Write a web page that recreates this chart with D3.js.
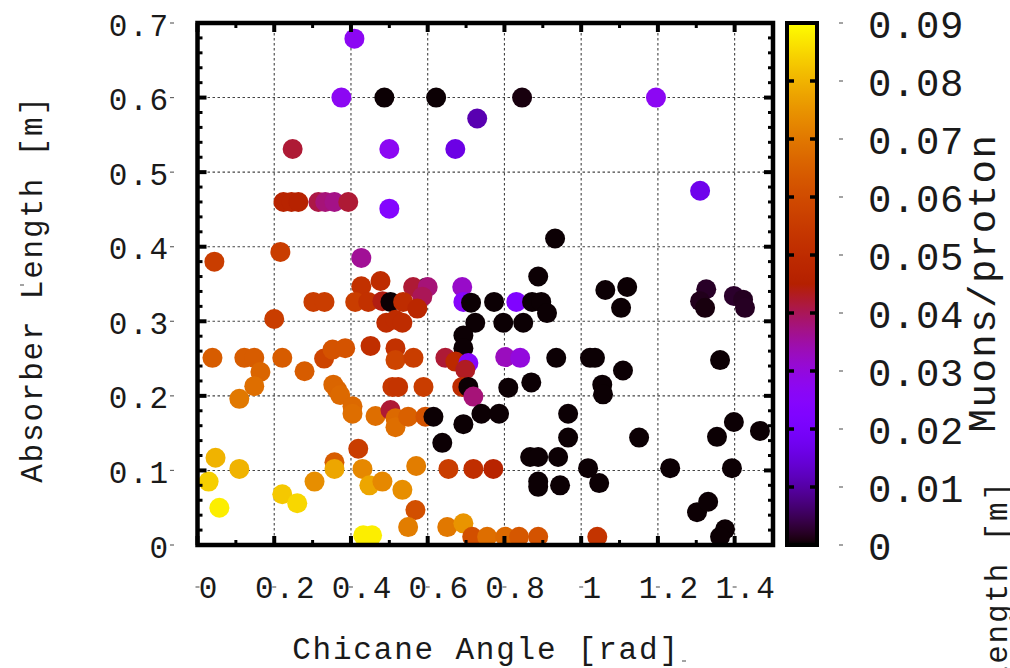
<!DOCTYPE html>
<html><head><meta charset="utf-8">
<script src="https://cdn.jsdelivr.net/npm/d3@7"></script>
<style>
html,body{margin:0;padding:0;background:#fff;}
svg text{font-family:"Liberation Mono","Courier New",monospace;fill:#1a1a1a;}
</style></head>
<body>
<svg id="chart" width="1010" height="668"></svg>
<script>
// ---- data: chicane angle [rad], absorber length [m], muons/proton ----
const angle = [
0.595,
0.409,0.375,0.487,0.622,0.846,1.195,0.729,0.248,0.500,0.672,0.500,1.310,
0.224,0.245,0.263,0.315,0.333,0.357,0.393,
0.932,0.044,0.216,0.427,0.888,0.427,0.477,0.562,0.600,0.586,0.690,
1.063,1.120,1.104,1.326,1.310,1.323,1.398,1.422,1.427,
0.302,0.331,0.411,0.445,0.482,0.503,0.536,0.573,0.693,0.713,0.773,0.831,0.872,0.896,0.911,
0.200,0.492,0.516,0.534,0.724,0.797,0.849,0.693,0.693,
0.451,0.516,0.516,0.563,
0.039,0.122,0.148,0.221,0.330,0.352,0.385,0.164,0.279,
0.802,0.841,0.935,1.023,1.036,1.362,1.109,
0.646,0.672,0.706,0.698,
0.148,0.109,0.354,0.364,0.372,
0.508,0.523,0.589,0.690,0.706,0.719,0.810,0.870,1.055,1.057,
0.404,0.404,0.464,0.503,0.516,0.516,0.549,0.594,
0.615,0.740,0.786,0.966,0.693,0.638,0.966,1.151,1.354,1.398,1.466,
0.419,0.867,0.888,0.940,0.888,0.888,0.945,
1.018,1.047,1.232,1.393,1.302,1.331,1.375,1.362,1.042,
0.357,0.357,0.430,0.448,0.482,
0.047,0.109,0.029,0.057,0.221,0.260,0.305,0.432,0.455,
0.570,0.654,0.719,0.771,
0.534,0.568,0.549,0.651,0.693,
0.716,0.755,0.802,0.838,0.888
];
const absorber = [
0.345,
0.679,0.600,0.600,0.600,0.600,0.600,0.572,0.531,0.531,0.531,0.451,0.475,
0.460,0.460,0.460,0.460,0.460,0.460,0.460,
0.411,0.380,0.393,0.385,0.360,0.347,0.354,0.346,0.346,0.333,0.346,
0.342,0.346,0.318,0.343,0.327,0.318,0.334,0.329,0.318,
0.326,0.326,0.326,0.326,0.327,0.326,0.326,0.317,0.326,0.325,0.326,0.326,0.326,0.326,0.311,
0.303,0.298,0.302,0.298,0.298,0.298,0.298,0.281,0.264,
0.267,0.264,0.248,0.251,
0.251,0.251,0.251,0.251,0.250,0.262,0.264,0.232,0.233,
0.252,0.251,0.251,0.251,0.251,0.248,0.234,
0.251,0.246,0.244,0.235,
0.213,0.196,0.215,0.208,0.201,
0.212,0.212,0.212,0.212,0.212,0.199,0.211,0.218,0.215,0.202,
0.186,0.176,0.173,0.181,0.170,0.158,0.172,0.172,
0.172,0.176,0.176,0.176,0.162,0.137,0.144,0.144,0.145,0.165,0.153,
0.129,0.118,0.118,0.118,0.085,0.078,0.080,
0.103,0.083,0.103,0.103,0.044,0.058,0.021,0.011,0.011,
0.111,0.102,0.102,0.080,0.085,
0.117,0.102,0.085,0.050,0.068,0.056,0.085,0.013,0.013,
0.106,0.102,0.102,0.102,
0.074,0.047,0.024,0.024,0.029,
0.011,0.011,0.011,0.011,0.011
];
const muons = [
0.0002,
0.027,0.027,0.0002,0.0002,0.0008,0.027,0.011,0.042,0.027,0.016,0.024,0.017,
0.047,0.047,0.046,0.041,0.038,0.037,0.042,
0.0002,0.056,0.056,0.036,0.0002,0.052,0.050,0.042,0.038,0.040,0.032,
0.0002,0.0002,0.0002,0.0022,0.0015,0.0008,0.0025,0.0018,0.0020,
0.056,0.056,0.056,0.052,0.044,0.0002,0.050,0.048,0.025,0.0002,0.0002,0.0225,0.0002,0.0002,0.0002,
0.056,0.050,0.050,0.050,0.0002,0.0002,0.0002,0.0002,0.0002,
0.051,0.052,0.058,0.056,
0.064,0.064,0.064,0.064,0.058,0.062,0.062,0.066,0.064,
0.033,0.030,0.0002,0.0002,0.0002,0.0002,0.0002,
0.042,0.049,0.025,0.043,
0.068,0.070,0.066,0.066,0.067,
0.054,0.053,0.056,0.050,0.0002,0.038,0.0002,0.0002,0.0002,0.0002,
0.067,0.068,0.068,0.042,0.067,0.068,0.065,0.062,
0.0002,0.0002,0.0002,0.0002,0.0002,0.0002,0.0002,0.0002,0.0002,0.0002,0.0002,
0.056,0.0002,0.0002,0.0002,0.0002,0.0002,0.0002,
0.0002,0.0002,0.0002,0.0002,0.0002,0.0002,0.0002,0.0002,0.053,
0.064,0.078,0.073,0.078,0.073,
0.080,0.080,0.084,0.088,0.083,0.085,0.074,0.088,0.088,
0.071,0.056,0.051,0.047,
0.074,0.061,0.071,0.070,0.075,
0.061,0.068,0.067,0.063,0.062
];
const xTickValues = [0,0.2,0.4,0.6,0.8,1.0,1.2,1.4];
const xTickLabels = ["0","0.2","0.4","0.6","0.8","1","1.2","1.4"];
const yTickValues = [0,0.1,0.2,0.3,0.4,0.5,0.6,0.7];
const yTickLabels = ["0","0.1","0.2","0.3","0.4","0.5","0.6","0.7"];
const cbTickValues = [0,0.01,0.02,0.03,0.04,0.05,0.06,0.07,0.08,0.09];
const cbTickLabels = ["0","0.01","0.02","0.03","0.04","0.05","0.06","0.07","0.08","0.09"];

// ---- layout ----
const svg = d3.select("#chart");
const L = 197.5, R = 773, T = 23, B = 545;
const x = d3.scaleLinear().domain([0,1.5]).range([L,R]);
const y = d3.scaleLinear().domain([0,0.7]).range([B,T]);
const cb = d3.scaleLinear().domain([0,0.09]).range([B,T]);
const cbL = 787, cbR = 817;

// gnuplot default palette (rgbformulae 7,5,15)
function pal(t){
  t = Math.max(0, Math.min(1, t));
  const r = Math.sqrt(t), g = t*t*t, b = Math.max(0, Math.sin(2*Math.PI*t));
  return d3.rgb(Math.round(r*255), Math.round(g*255), Math.round(b*255)).toString();
}
const color = v => pal(v/0.09);

// grid
const grid = svg.append("g").attr("stroke","#444").attr("stroke-width",1.1).attr("stroke-dasharray","2.5,2.5");
xTickValues.filter(v=>v>0).forEach(v=>{
  grid.append("line").attr("x1",x(v)).attr("x2",x(v)).attr("y1",T).attr("y2",B);
});
yTickValues.filter(v=>v>0 && v<0.7).forEach(v=>{
  grid.append("line").attr("x1",L).attr("x2",R).attr("y1",y(v)).attr("y2",y(v));
});

// points
const pts = angle.map((a,i)=>({a, l: absorber[i], m: muons[i]}));
svg.append("g").selectAll("circle").data(pts).join("circle")
  .attr("cx", d=>x(d.a)).attr("cy", d=>y(d.l)).attr("r", 10)
  .attr("fill", d=>color(d.m));

// ticks (inside, mirrored)
const tk = svg.append("g").attr("stroke","#000");
d3.range(0, 15).forEach(i=>{
  const v = i/10, major = i%2===0, len = major?9:5;
  tk.append("line").attr("x1",x(v)).attr("x2",x(v)).attr("y1",B).attr("y2",B-len).attr("stroke-width",major?4:3);
  tk.append("line").attr("x1",x(v)).attr("x2",x(v)).attr("y1",T).attr("y2",T+len).attr("stroke-width",major?4:3);
});
d3.range(0, 36).forEach(i=>{
  const v = i/50, major = i%5===0, len = major?9:5;
  tk.append("line").attr("y1",y(v)).attr("y2",y(v)).attr("x1",L).attr("x2",L+len).attr("stroke-width",major?4:3);
  tk.append("line").attr("y1",y(v)).attr("y2",y(v)).attr("x1",R).attr("x2",R-len).attr("stroke-width",major?4:3);
});

// frame
svg.append("rect").attr("x",L).attr("y",T).attr("width",R-L).attr("height",B-T)
  .attr("fill","none").attr("stroke","#000").attr("stroke-width",4.5);

// axes labels via d3 axes
const fsAx = 31, lsAx = 1.8;
const xAxis = d3.axisBottom(x).tickValues(xTickValues).tickFormat((d,i)=>xTickLabels[i]).tickSize(0).tickPadding(0);
const gx = svg.append("g").call(xAxis);
gx.select(".domain").remove();
gx.selectAll("text").attr("font-size",fsAx).attr("letter-spacing",lsAx)
  .attr("text-anchor","middle").attr("dy",null).attr("y",598)
  .attr("x",11).attr("fill","#1a1a1a");
const yAxis = d3.axisLeft(y).tickValues(yTickValues).tickFormat((d,i)=>yTickLabels[i]).tickSize(0).tickPadding(0);
const gy = svg.append("g").call(yAxis);
gy.select(".domain").remove();
gy.selectAll("text").attr("font-size",fsAx).attr("letter-spacing",lsAx)
  .attr("text-anchor","end").attr("dy",null).attr("x",170).attr("y",12).attr("fill","#1a1a1a");

// little label dashes
const dash = svg.append("g").attr("stroke","#666").attr("stroke-width",1.2);
xTickValues.forEach(v=>dash.append("line").attr("x1",x(v)-2).attr("x2",x(v)+2).attr("y1",587).attr("y2",587));
yTickValues.forEach(v=>dash.append("line").attr("x1",170).attr("x2",174).attr("y1",y(v)).attr("y2",y(v)));
cbTickValues.forEach(v=>dash.append("line").attr("x1",839).attr("x2",843).attr("y1",cb(v)).attr("y2",cb(v)));
dash.append("line").attr("x1",682).attr("x2",686).attr("y1",661).attr("y2",661);
dash.append("line").attr("x1",20).attr("x2",24).attr("y1",285).attr("y2",285);

// colorbar
const defs = svg.append("defs");
const grad = defs.append("linearGradient").attr("id","cbgrad").attr("x1",0).attr("y1",1).attr("x2",0).attr("y2",0);
d3.range(0,101).forEach(i=>grad.append("stop").attr("offset",i/100).attr("stop-color",pal(i/100)));
svg.append("rect").attr("x",cbL).attr("y",T).attr("width",cbR-cbL).attr("height",B-T)
  .attr("fill","url(#cbgrad)").attr("stroke","#000").attr("stroke-width",4);
const cbt = svg.append("g").attr("stroke","#000").attr("stroke-width",3.5);
cbTickValues.slice(1,-1).forEach(v=>{
  cbt.append("line").attr("x1",cbL).attr("x2",cbL+7).attr("y1",cb(v)).attr("y2",cb(v));
  cbt.append("line").attr("x1",cbR-7).attr("x2",cbR).attr("y1",cb(v)).attr("y2",cb(v));
});
const cbAxis = d3.axisRight(cb).tickValues(cbTickValues).tickFormat((d,i)=>cbTickLabels[i]).tickSize(0).tickPadding(0);
const gc = svg.append("g").call(cbAxis);
gc.select(".domain").remove();
gc.selectAll("text").attr("font-size",39).attr("letter-spacing",0.6)
  .attr("text-anchor","start").attr("dy",null).attr("x",868).attr("y",14).attr("fill","#1a1a1a");

// titles
svg.append("text").attr("x",486).attr("y",659).attr("text-anchor","middle")
  .attr("font-size",fsAx).attr("letter-spacing",lsAx).text("Chicane Angle [rad]");
svg.append("text").attr("transform","translate(42,289) rotate(-90)").attr("text-anchor","middle")
  .attr("font-size",fsAx).attr("letter-spacing",lsAx).text("Absorber Length [m]");
svg.append("text").attr("transform","translate(995,283) rotate(-90)").attr("text-anchor","middle")
  .attr("font-size",39).attr("letter-spacing",1.5).text("Muons/proton");
svg.append("text").attr("transform","translate(1007,674) rotate(-90)").attr("text-anchor","middle")
  .attr("font-size",fsAx).attr("letter-spacing",lsAx).text("Absorber Length [m]");
</script>
</body></html>
